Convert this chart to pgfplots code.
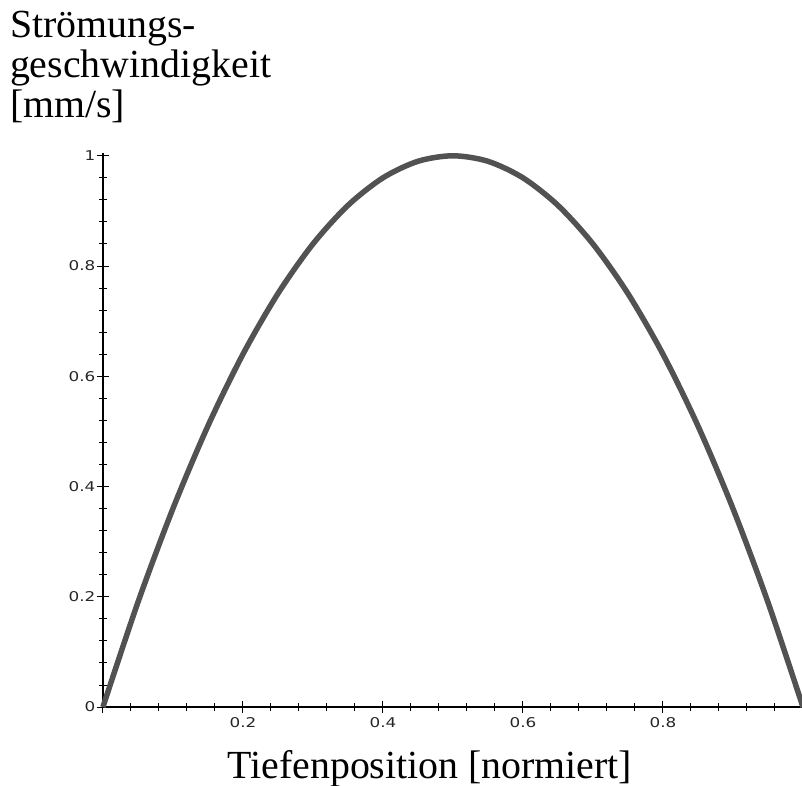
\documentclass[border=0pt]{standalone}
\usepackage{fontspec}
\setmainfont{Liberation Serif}
\newfontfamily\tickfont[FakeStretch=1.25]{DejaVu Sans}
\usepackage{pgfplots}
\pgfplotsset{compat=1.18}
\begin{document}
\begin{tikzpicture}[x=1bp,y=1bp]
\begin{axis}[
  scale only axis,
  width=700bp, height=554bp,
  xmin=0, xmax=1, ymin=0, ymax=1.005,
  axis lines=left,
  axis line style={-, line width=1.2bp, black},
  xtick={0,0.2,0.4,0.6,0.8,1},
  xticklabels={,0.2,0.4,0.6,0.8,},
  ytick={0,0.2,0.4,0.6,0.8,1},
  yticklabels={0,0.2,0.4,0.6,0.8,1},
  minor tick num=4,
  tick align=center,
  major tick length=12bp,
  minor tick length=8bp,
  tick style={line width=1bp, black},
  /pgf/number format/assume math mode=true,
  tick label style={font=\tickfont\fontsize{13.5}{15}\selectfont, text=black!85},
  xticklabel style={yshift=-1bp},
  yticklabel style={xshift=2bp},
  clip=false,
]
\addplot[smooth, line width=5.5bp, color=black!68] coordinates {
(0,0) (0.05,0.19) (0.1,0.36) (0.15,0.51) (0.2,0.64) (0.25,0.75) (0.3,0.84)
(0.35,0.91) (0.4,0.96) (0.45,0.99) (0.5,1.0) (0.55,0.99) (0.6,0.96)
(0.65,0.91) (0.7,0.84) (0.75,0.75) (0.8,0.64) (0.85,0.51) (0.9,0.36)
(0.95,0.19) (1,0)
};
\coordinate (tl) at (axis description cs:-0.147,1.2762);
\coordinate (br) at (axis description cs:0.9986,-0.1408);
\node[anchor=base west, inner sep=0pt, font=\fontsize{40}{40}\selectfont]
  at (axis description cs:-0.133,1.2094) {Strömungs-};
\node[anchor=base west, inner sep=0pt, font=\fontsize{40}{40}\selectfont]
  at (axis description cs:-0.133,1.1372) {geschwindigkeit};
\node[anchor=base west, inner sep=0pt, font=\fontsize{40}{40}\selectfont]
  at (axis description cs:-0.133,1.065) {[mm/s]};
\node[anchor=base, inner sep=0pt, font=\fontsize{40}{40}\selectfont]
  at (axis description cs:0.467,-0.128) {Tiefenposition [normiert]};
\end{axis}
\pgfresetboundingbox
\path[use as bounding box] (tl) rectangle (br);
\end{tikzpicture}
\end{document}
